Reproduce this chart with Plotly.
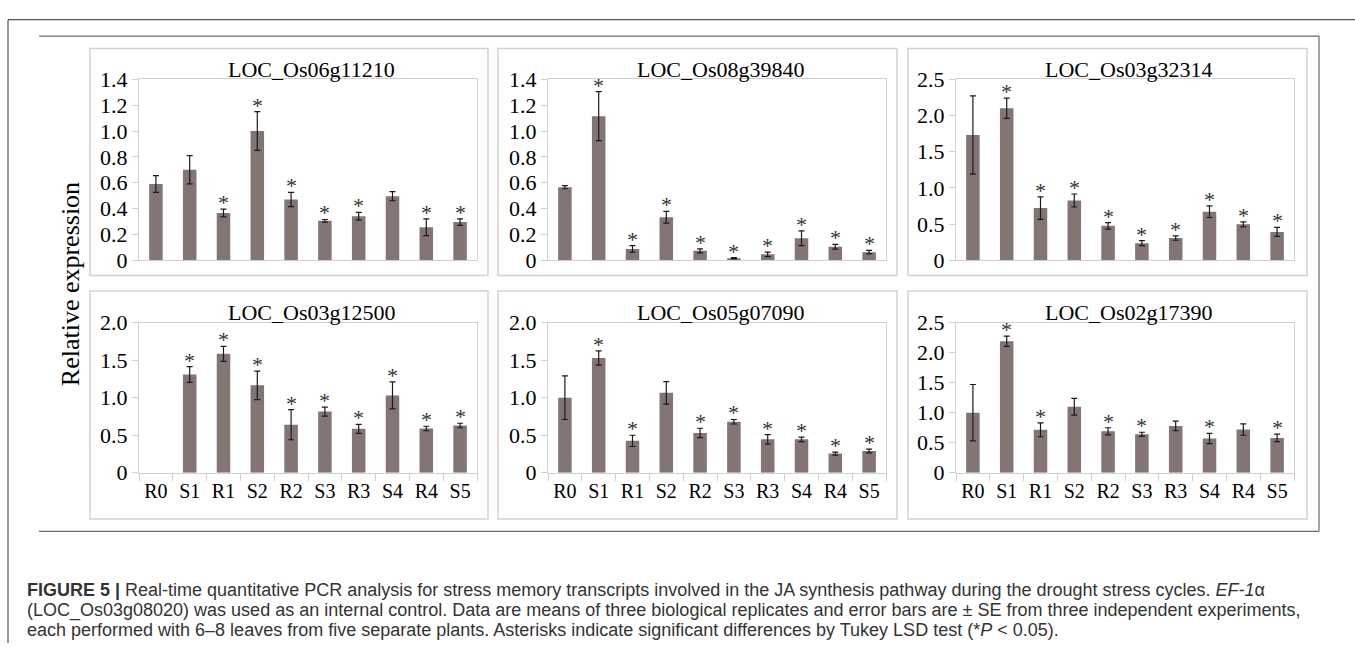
import plotly.graph_objects as go

W, H = 1355, 656

categories = ["R0", "S1", "R1", "S2", "R2", "S3", "R3", "S4", "R4", "S5"]

gene_names = ["LOC_Os06g11210", "LOC_Os08g39840", "LOC_Os03g32314",
              "LOC_Os03g12500", "LOC_Os05g07090", "LOC_Os02g17390"]

os06g11210_mean = [0.59, 0.70, 0.365, 1.00, 0.47, 0.305, 0.34, 0.495, 0.255, 0.295]
os06g11210_se = [0.065, 0.11, 0.03, 0.15, 0.055, 0.01, 0.03, 0.035, 0.065, 0.025]
os06g11210_sig = [0, 0, 1, 1, 1, 1, 1, 0, 1, 1]

os08g39840_mean = [0.565, 1.115, 0.087, 0.332, 0.072, 0.015, 0.045, 0.17, 0.104, 0.062]
os08g39840_se = [0.012, 0.19, 0.025, 0.045, 0.015, 0.005, 0.018, 0.057, 0.018, 0.014]
os08g39840_sig = [0, 1, 1, 1, 1, 1, 1, 1, 1, 1]

os03g32314_mean = [1.73, 2.10, 0.72, 0.825, 0.475, 0.235, 0.305, 0.67, 0.495, 0.39]
os03g32314_se = [0.54, 0.14, 0.155, 0.09, 0.045, 0.035, 0.03, 0.08, 0.035, 0.062]
os03g32314_sig = [0, 1, 1, 1, 1, 1, 1, 1, 1, 1]

os03g12500_mean = [0, 1.31, 1.585, 1.165, 0.64, 0.815, 0.585, 1.03, 0.59, 0.63]
os03g12500_se = [0, 0.105, 0.10, 0.19, 0.20, 0.06, 0.06, 0.18, 0.03, 0.03]
os03g12500_sig = [0, 1, 1, 1, 1, 1, 1, 1, 1, 1]

os05g07090_mean = [1.0, 1.53, 0.425, 1.065, 0.53, 0.68, 0.445, 0.445, 0.255, 0.29]
os05g07090_se = [0.29, 0.095, 0.075, 0.15, 0.063, 0.03, 0.063, 0.03, 0.02, 0.025]
os05g07090_sig = [0, 1, 1, 0, 1, 1, 1, 1, 1, 1]

os02g17390_mean = [1.0, 2.19, 0.715, 1.10, 0.69, 0.64, 0.78, 0.57, 0.72, 0.58]
os02g17390_se = [0.47, 0.085, 0.115, 0.14, 0.06, 0.035, 0.08, 0.085, 0.095, 0.062]
os02g17390_sig = [0, 1, 1, 0, 1, 1, 0, 1, 0, 1]

ticks_14 = [0, 0.2, 0.4, 0.6, 0.8, 1.0, 1.2, 1.4]
labels_14 = ["0", "0.2", "0.4", "0.6", "0.8", "1.0", "1.2", "1.4"]
ticks_20 = [0, 0.5, 1.0, 1.5, 2.0]
labels_20 = ["0", "0.5", "1.0", "1.5", "2.0"]
ticks_25 = [0, 0.5, 1.0, 1.5, 2.0, 2.5]
labels_25 = ["0", "0.5", "1.0", "1.5", "2.0", "2.5"]

y_title = "Relative expression"
caption_lines = [
    "<b>FIGURE 5 |</b> Real-time quantitative PCR analysis for stress memory transcripts involved in the JA synthesis pathway during the drought stress cycles. <i>EF-1</i>α",
    "(LOC_Os03g08020) was used as an internal control. Data are means of three biological replicates and error bars are ± SE from three independent experiments,",
    "each performed with 6–8 leaves from five separate plants. Asterisks indicate significant differences by Tukey LSD test (*<i>P</i> < 0.05).",
]

panels = [
    (os06g11210_mean, os06g11210_se, os06g11210_sig, ticks_14, labels_14, 1.4),
    (os08g39840_mean, os08g39840_se, os08g39840_sig, ticks_14, labels_14, 1.4),
    (os03g32314_mean, os03g32314_se, os03g32314_sig, ticks_25, labels_25, 2.5),
    (os03g12500_mean, os03g12500_se, os03g12500_sig, ticks_20, labels_20, 2.0),
    (os05g07090_mean, os05g07090_se, os05g07090_sig, ticks_20, labels_20, 2.0),
    (os02g17390_mean, os02g17390_se, os02g17390_sig, ticks_25, labels_25, 2.5),
]

# ---- layout geometry (pixels) ----
plot_x = [(139, 477), (548, 886), (956, 1294)]
plot_y = [(70, 258), (323, 479)]
panel_x = [(90, 488), (498, 897), (908, 1307)]
panel_y = [(38, 274), (290, 527)]
title_y = [60, 312]


def px(x):
    return x / W


def py(y):
    return 1 - y / H


SERIF = "Liberation Serif, Times New Roman, serif"
SANS = "Liberation Sans, Arial, sans-serif"
BAR = "#827573"
AXIS = "#d4d0cb"

fig = go.Figure()
layout = dict(
    width=W, height=H, margin=dict(l=0, r=0, t=0, b=0),
    paper_bgcolor="white", plot_bgcolor="white",
    showlegend=False, bargap=0.6,
)
annotations = []
shapes = []

for i, (mean, se, sig, tv, tt, ymax) in enumerate(panels):
    r, c = divmod(i, 3)
    n = i + 1
    xa = "x" if n == 1 else f"x{n}"
    ya = "y" if n == 1 else f"y{n}"
    yvals = [m if m > 0 else None for m in mean]
    evals = [s if m > 0 else None for m, s in zip(mean, se)]
    fig.add_trace(go.Bar(
        x=categories, y=yvals, xaxis=xa, yaxis=ya,
        marker=dict(color=BAR, line=dict(width=0)),
        error_y=dict(type="data", array=evals, visible=True,
                     color="#1a1a1a", thickness=1.2, width=3),
        hoverinfo="x+y",
    ))
    x0, x1 = plot_x[c]
    y0, y1 = plot_y[r]
    xkey = "xaxis" if n == 1 else f"xaxis{n}"
    ykey = "yaxis" if n == 1 else f"yaxis{n}"
    layout[xkey] = dict(
        domain=[px(x0), px(x1)], anchor=ya, type="category",
        categoryorder="array", categoryarray=categories,
        showline=True, linecolor=AXIS, linewidth=1, mirror=True,
        showgrid=False, zeroline=False,
        showticklabels=(r == 1),
        ticks="outside" if r == 1 else "", tickson="boundaries",
        ticklen=7, tickcolor=AXIS,
        tickfont=dict(family=SERIF, size=20, color="#000"),
        fixedrange=True,
    )
    layout[ykey] = dict(
        domain=[py(y1), py(y0)], anchor=xa, range=[0, ymax],
        tickvals=tv, ticktext=tt,
        showline=True, linecolor=AXIS, linewidth=1, mirror=True,
        showgrid=False, zeroline=False,
        ticks="outside", ticklen=6, tickcolor=AXIS,
        tickfont=dict(family=SERIF, size=22, color="#000"),
        fixedrange=True,
    )
    # panel border
    shapes.append(dict(type="rect", xref="paper", yref="paper",
                       x0=px(panel_x[c][0]), x1=px(panel_x[c][1]),
                       y0=py(panel_y[r][1]), y1=py(panel_y[r][0]),
                       line=dict(color="#d6d1cb", width=1.5), layer="below"))
    # title
    annotations.append(dict(
        xref="paper", yref="paper", x=px((x0 + x1) / 2 + 3), y=py(title_y[r]),
        text=gene_names[i], showarrow=False, xanchor="center", yanchor="middle",
        font=dict(family=SERIF, size=22, color="#000")))
    # asterisks
    for cat, m, s, g in zip(categories, mean, se, sig):
        if g:
            annotations.append(dict(
                xref=xa, yref=ya, x=cat, y=m + s, text="*", showarrow=False,
                xanchor="center", yanchor="bottom", yshift=-8,
                font=dict(family=SERIF, size=22, color="#333")))

# y-axis title
annotations.append(dict(
    xref="paper", yref="paper", x=px(70), y=py(283), text=y_title,
    showarrow=False, textangle=-90, xanchor="center", yanchor="middle",
    font=dict(family=SERIF, size=26, color="#000")))

# caption
for k, (line, yy) in enumerate(zip(caption_lines, [601, 622, 643])):
    annotations.append(dict(
        xref="paper", yref="paper", x=px(25), y=py(yy), text=line,
        showarrow=False, xanchor="left", yanchor="middle",
        font=dict(family=SANS, size=18, color="#333")))

# frame lines
DARK = "#555555"
for (xa0, ya0, xa1, ya1, col) in [
    (8, 8, 1355, 8, DARK), (8, 8, 8, 656, DARK),
    (39, 25, 1319, 25, "#6a6a6a"), (1319, 25, 1319, 540, "#6a6a6a"),
    (39, 540, 1319, 540, "#6a6a6a"),
]:
    shapes.append(dict(type="line", xref="paper", yref="paper",
                       x0=px(xa0), x1=px(xa1), y0=py(ya0), y1=py(ya1),
                       line=dict(color=col, width=1.2)))

layout["annotations"] = annotations
layout["shapes"] = shapes
fig.update_layout(**layout)

fig.write_html("out.html", config={"displayModeBar": False},
               post_script="document.body.style.margin='0';")
